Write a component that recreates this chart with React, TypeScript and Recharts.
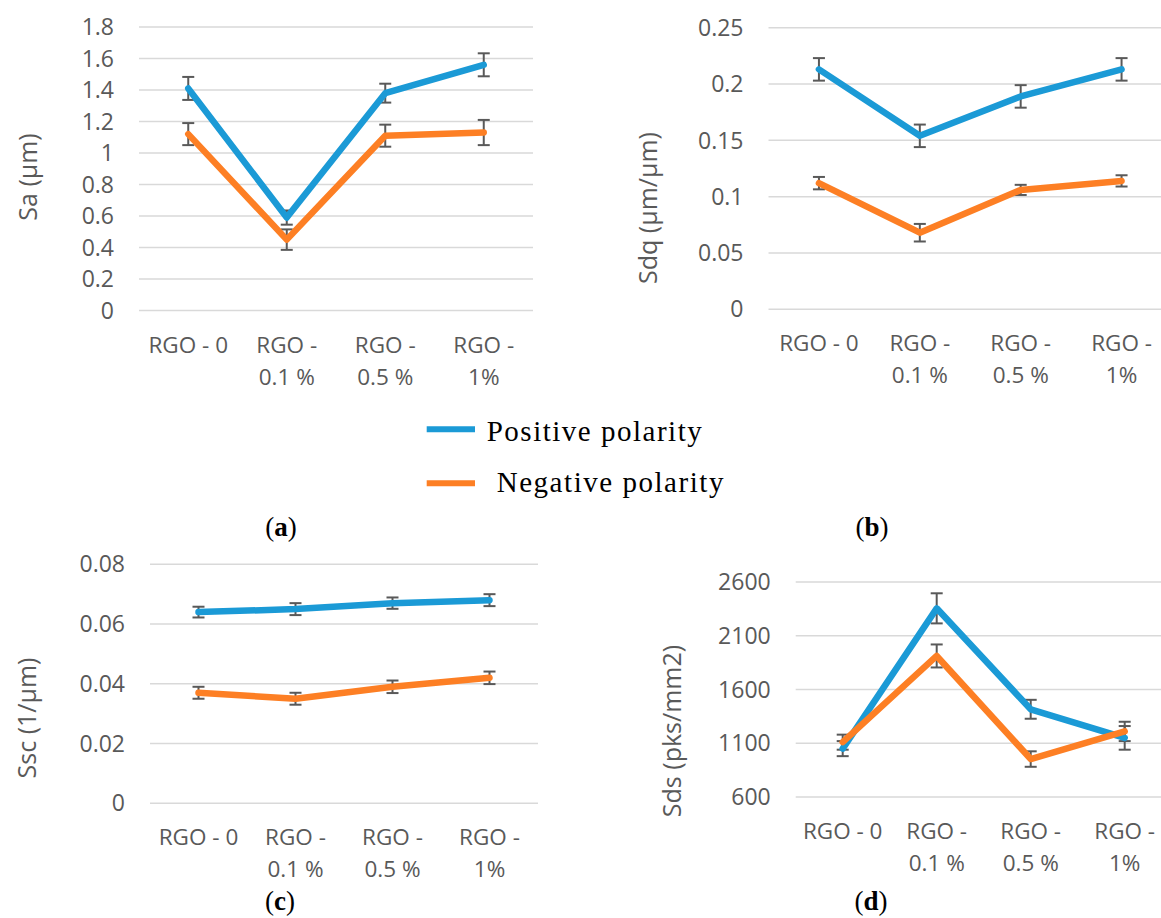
import React from 'react';
import { LineChart, Line, XAxis, YAxis, CartesianGrid, ErrorBar } from 'recharts';

const categories = ['RGO - 0', 'RGO - 0.1 %', 'RGO - 0.5 %', 'RGO - 1%'];
const categoryLines = [['RGO - 0'], ['RGO -', '0.1 %'], ['RGO -', '0.5 %'], ['RGO -', '1%']];

const seriesNames = ['Positive polarity', 'Negative polarity'];

const saPositive = [1.41, 0.59, 1.38, 1.56];
const saPositiveErr = [0.073, 0.045, 0.06, 0.073];
const saNegative = [1.12, 0.45, 1.11, 1.13];
const saNegativeErr = [0.07, 0.065, 0.07, 0.08];
const saTicks = [0, 0.2, 0.4, 0.6, 0.8, 1, 1.2, 1.4, 1.6, 1.8];

const sdqPositive = [0.213, 0.154, 0.189, 0.213];
const sdqPositiveErr = [0.01, 0.01, 0.01, 0.01];
const sdqNegative = [0.112, 0.068, 0.106, 0.114];
const sdqNegativeErr = [0.0055, 0.0078, 0.0045, 0.005];
const sdqTicks = [0, 0.05, 0.1, 0.15, 0.2, 0.25];

const sscPositive = [0.064, 0.065, 0.067, 0.068];
const sscPositiveErr = [0.0018, 0.002, 0.0019, 0.002];
const sscNegative = [0.037, 0.035, 0.039, 0.042];
const sscNegativeErr = [0.002, 0.002, 0.0021, 0.0021];
const sscTicks = [0, 0.02, 0.04, 0.06, 0.08];

const sdsPositive = [1050, 2355, 1416, 1150];
const sdsPositiveErr = [70, 140, 88, 110];
const sdsNegative = [1110, 1912, 953, 1210];
const sdsNegativeErr = [70, 107, 72, 90];
const sdsTicks = [600, 1100, 1600, 2100, 2600];

const BLUE = '#1b9ad6';
const ORANGE = '#fd7f24';
const TEXT = '#595959';
const SANS = "'Open Sans', sans-serif";
const SERIF = "'Liberation Serif', serif";

const CategoryTick = (props: any) => {
  const { x, y, payload } = props;
  const idx = categories.indexOf(payload.value);
  const lines = idx >= 0 ? categoryLines[idx] : [String(payload.value)];
  return (
    <text x={x} y={y} textAnchor="middle" fill={TEXT} fontSize={22.5} fontFamily={SANS}>
      {lines.map((l, i) => (
        <tspan key={i} x={x} y={y + 42 + i * 32}>
          {l}
        </tspan>
      ))}
    </text>
  );
};

type PanelProps = {
  left: number;
  top: number;
  width: number;
  height: number;
  plot: { left: number; top: number; right: number; bottom: number };
  pos: number[];
  posErr: number[];
  neg: number[];
  negErr: number[];
  ticks: number[];
};

function Panel({ left, top, width, height, plot, pos, posErr, neg, negErr, ticks }: PanelProps) {
  const data = categories.map((c, i) => ({
    cat: c,
    pos: pos[i],
    posErr: posErr[i],
    neg: neg[i],
    negErr: negErr[i],
  }));
  return (
    <div style={{ position: 'absolute', left, top }}>
      <LineChart
        width={width}
        height={height}
        data={data}
        margin={{ top: plot.top - top, right: left + width - plot.right, bottom: 0, left: 0 }}
      >
        <CartesianGrid vertical={false} stroke="#d9d9d9" strokeWidth={1.5} />
        <XAxis
          dataKey="cat"
          scale="band"
          height={top + height - plot.bottom}
          axisLine={false}
          tickLine={false}
          tickSize={0}
          tickMargin={0}
          interval={0}
          tick={<CategoryTick />}
        />
        <YAxis
          type="number"
          width={plot.left - left}
          domain={[ticks[0], ticks[ticks.length - 1]]}
          ticks={ticks}
          interval={0}
          axisLine={false}
          tickLine={false}
          tickSize={0}
          tickMargin={25}
          tick={{ fill: TEXT, fontSize: 23, fontFamily: SANS }}
        />
        <Line dataKey="pos" stroke="none" dot={false} activeDot={false} isAnimationActive={false} legendType="none">
          <ErrorBar dataKey="posErr" width={6} strokeWidth={2} stroke={TEXT} direction="y" />
        </Line>
        <Line dataKey="neg" stroke="none" dot={false} activeDot={false} isAnimationActive={false} legendType="none">
          <ErrorBar dataKey="negErr" width={6} strokeWidth={2} stroke={TEXT} direction="y" />
        </Line>
        <Line
          dataKey="pos"
          name={seriesNames[0]}
          stroke={BLUE}
          strokeWidth={6.5}
          strokeLinecap="round"
          strokeLinejoin="round"
          dot={false}
          activeDot={false}
          isAnimationActive={false}
        />
        <Line
          dataKey="neg"
          name={seriesNames[1]}
          stroke={ORANGE}
          strokeWidth={6.5}
          strokeLinecap="round"
          strokeLinejoin="round"
          dot={false}
          activeDot={false}
          isAnimationActive={false}
        />
      </LineChart>
    </div>
  );
}

const AxisTitle = ({ x, y, text }: { x: number; y: number; text: string }) => (
  <text
    x={x}
    y={y}
    transform={`rotate(-90 ${x} ${y})`}
    textAnchor="middle"
    dominantBaseline="central"
    fill={TEXT}
    fontSize={25}
    fontFamily={SANS}
  >
    {text}
  </text>
);

const SubLabel = ({ x, y, letter }: { x: number; y: number; letter: string }) => (
  <text x={x} y={y} textAnchor="middle" fontSize={27} fontFamily={SERIF} fill="#000">
    (<tspan fontWeight="bold">{letter}</tspan>)
  </text>
);

export default function App() {
  return (
    <div
      style={{
        position: 'absolute',
        left: 0,
        top: 0,
        width: 1161,
        height: 918,
        overflow: 'hidden',
        background: '#ffffff',
      }}
    >
      <Panel
        left={0}
        top={0}
        width={545}
        height={400}
        plot={{ left: 139, top: 27, right: 533, bottom: 310.5 }}
        pos={saPositive}
        posErr={saPositiveErr}
        neg={saNegative}
        negErr={saNegativeErr}
        ticks={saTicks}
      />
      <Panel
        left={580}
        top={0}
        width={600}
        height={400}
        plot={{ left: 768.5, top: 27.7, right: 1172, bottom: 309.3 }}
        pos={sdqPositive}
        posErr={sdqPositiveErr}
        neg={sdqNegative}
        negErr={sdqNegativeErr}
        ticks={sdqTicks}
      />
      <Panel
        left={0}
        top={540}
        width={545}
        height={378}
        plot={{ left: 150, top: 564.3, right: 538, bottom: 803.3 }}
        pos={sscPositive}
        posErr={sscPositiveErr}
        neg={sscNegative}
        negErr={sscNegativeErr}
        ticks={sscTicks}
      />
      <Panel
        left={580}
        top={540}
        width={600}
        height={378}
        plot={{ left: 795.7, top: 582, right: 1171.7, bottom: 797 }}
        pos={sdsPositive}
        posErr={sdsPositiveErr}
        neg={sdsNegative}
        negErr={sdsNegativeErr}
        ticks={sdsTicks}
      />
      <svg
        width={1161}
        height={918}
        style={{ position: 'absolute', left: 0, top: 0, pointerEvents: 'none' }}
      >
        <AxisTitle x={27} y={177} text="Sa (µm)" />
        <AxisTitle x={646.6} y={208} text="Sdq (µm/µm)" />
        <AxisTitle x={26} y={718} text="Ssc (1/µm)" />
        <AxisTitle x={670.6} y={731} text="Sds (pks/mm2)" />

        <line x1={426.7} x2={475} y1={429.3} y2={429.3} stroke={BLUE} strokeWidth={6} />
        <line x1={426.7} x2={475} y1={483.3} y2={483.3} stroke={ORANGE} strokeWidth={6} />
        <text x={486.7} y={440.7} fontSize={29} fontFamily={SERIF} fill="#000" textLength={215} lengthAdjust="spacing">
          {seriesNames[0]}
        </text>
        <text x={496.7} y={491.7} fontSize={29} fontFamily={SERIF} fill="#000" textLength={226.7} lengthAdjust="spacing">
          {seriesNames[1]}
        </text>

        <SubLabel x={281} y={536} letter="a" />
        <SubLabel x={872} y={536} letter="b" />
        <SubLabel x={280} y={910} letter="c" />
        <SubLabel x={871} y={910} letter="d" />
      </svg>
    </div>
  );
}
